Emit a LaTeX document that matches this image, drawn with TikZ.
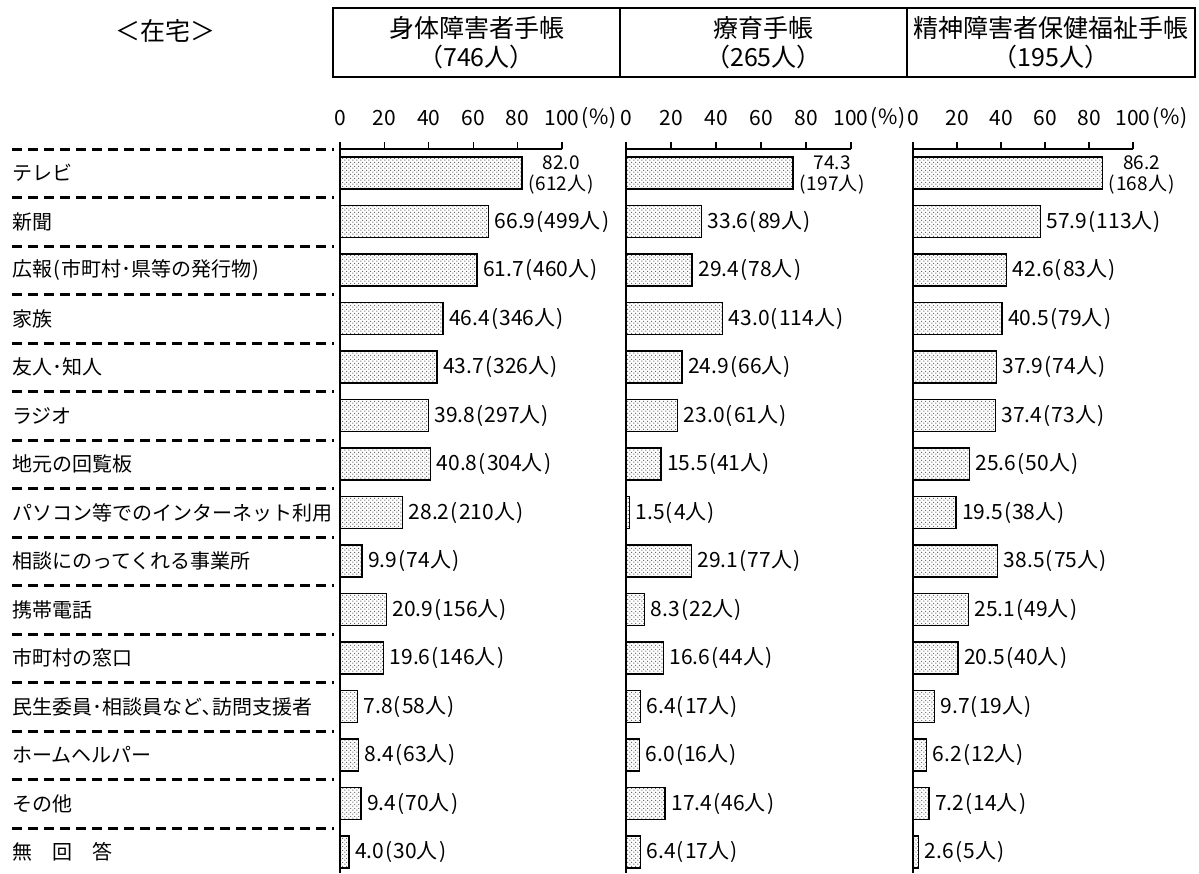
\documentclass[tikz,border=0pt]{standalone}
\usepackage{fontspec}
\setmainfont{Noto Sans CJK JP}
\usetikzlibrary{patterns}
\pgfdeclarepatternformonly{bardots}{\pgfpointorigin}{\pgfqpoint{4.2pt}{4.2pt}}{\pgfqpoint{4.2pt}{4.2pt}}{%
  \pgfpathcircle{\pgfqpoint{1.05pt}{1.05pt}}{0.65pt}%
  \pgfpathcircle{\pgfqpoint{3.15pt}{3.15pt}}{0.65pt}%
  \pgfusepath{fill}}
\newcommand\myLP{\makebox[0.45em]{(}}
\newcommand\myRP{\makebox[0.45em]{)}}
\begin{document}
\begin{tikzpicture}[x=1pt,y=-1pt,
  lab/.style={anchor=west,font=\fontsize{20}{21}\selectfont,inner sep=0pt},
  val/.style={anchor=west,font=\fontsize{21}{22}\selectfont,inner sep=0pt},
  valtwo/.style={font=\fontsize{19}{20}\selectfont,inner sep=0pt},
  hdr/.style={font=\fontsize{25}{29}\selectfont,inner sep=0pt,align=center},
  axl/.style={font=\fontsize{21}{22}\selectfont,inner sep=0pt},
  bar/.style={draw=black,line width=1.4pt,pattern=bardots,pattern color=black!80},
  sepline/.style={line width=3pt,dash pattern=on 10pt off 6pt},
  axisline/.style={line width=1.3pt}
]
\useasboundingbox (0,0) rectangle (1199,873);
% title and header
\node[hdr] (title) at (165,31) {＜在宅＞};
\draw[line width=1.3pt] (333,8) rectangle (1195,77);
\draw[line width=1.3pt] (620,8) -- (620,77) (907,8) -- (907,77);
\node[hdr] (h1) at (476.5,42.5) {身体障害者手帳\\（746人）};
\node[hdr] (h2) at (763.5,42.5) {療育手帳\\（265人）};
\node[hdr] (h3) at (1051,42.5) {精神障害者保健福祉手帳\\（195人）};
% axes
\foreach \p/\X/\W in {1/340/222,2/626/225,3/913/220}{
  \draw[axisline] (\X,142) -- (\X,873);
  \draw[axisline] (\X,149) -- ({\X+\W},149);
  \foreach \k in {1,...,5}{
    \draw[axisline] ({\X+\k*\W/5},142) -- ({\X+\k*\W/5},149);
  }
  \foreach \k/\t in {0/0,1/20,2/40,3/60,4/80}{
    \node[axl] (ax\p-\k) at ({\X+\k*\W/5},118) {\t};
  }
  \node[axl] (ax\p-5) at ({\X+\W},118) {100};
  \node[axl,anchor=west] (pc\p) at (ax\p-5.east) {\myLP\%\myRP};
}
% separators
\foreach \k in {0,...,14}{
  \draw[sepline] (12,{149+48.5*\k}) -- (334,{149+48.5*\k});
}
% first row (two-line labels)
\node[lab] (r0) at (12,173) {テレビ};
\draw[bar] (340,157) rectangle ({340+82.0*2.22},189);
\draw[bar] (626,157) rectangle ({626+74.3*2.25},189);
\draw[bar] (913,157) rectangle ({913+86.2*2.20},189);
\node[valtwo,anchor=west] (v1-0b) at ({340+82.0*2.22+5},185) {\myLP612人\myRP};
\node[valtwo,anchor=west] (v2-0b) at ({626+74.3*2.25+5},185) {\myLP197人\myRP};
\node[valtwo,anchor=west] (v3-0b) at ({913+86.2*2.20+5},185) {\myLP168人\myRP};
\path (v1-0b.center) ++(0,-22) node[valtwo] (v1-0a) {82.0};
\path (v2-0b.center) ++(0,-22) node[valtwo] (v2-0a) {74.3};
\path (v3-0b.center) ++(0,-22) node[valtwo] (v3-0a) {86.2};
% other rows
\foreach \i/\lab/\a/\an/\b/\bn/\c/\cn in {
  1/新聞/66.9/499/33.6/89/57.9/113,
  2/広報\myLP 市町村･県等の発行物\myRP/61.7/460/29.4/78/42.6/83,
  3/家族/46.4/346/43.0/114/40.5/79,
  4/友人･知人/43.7/326/24.9/66/37.9/74,
  5/ラジオ/39.8/297/23.0/61/37.4/73,
  6/地元の回覧板/40.8/304/15.5/41/25.6/50,
  7/パソコン等でのインターネット利用/28.2/210/1.5/4/19.5/38,
  8/相談にのってくれる事業所/9.9/74/29.1/77/38.5/75,
  9/携帯電話/20.9/156/8.3/22/25.1/49,
  10/市町村の窓口/19.6/146/16.6/44/20.5/40,
  11/民生委員･相談員など､訪問支援者/7.8/58/6.4/17/9.7/19,
  12/ホームヘルパー/8.4/63/6.0/16/6.2/12,
  13/その他/9.4/70/17.4/46/7.2/14,
  14/無　回　答/4.0/30/6.4/17/2.6/5}{
  \pgfmathsetmacro{\y}{173+48.5*\i}
  \node[lab] (r\i) at (12,\y) {\lab};
  \draw[bar] (340,{\y-16}) rectangle ({340+\a*2.22},{\y+16});
  \draw[bar] (626,{\y-16}) rectangle ({626+\b*2.25},{\y+16});
  \draw[bar] (913,{\y-16}) rectangle ({913+\c*2.20},{\y+16});
  \node[val] (v1-\i) at ({340+\a*2.22+6},\y) {\a\myLP{\an}人\myRP};
  \node[val] (v2-\i) at ({626+\b*2.25+6},\y) {\b\myLP{\bn}人\myRP};
  \node[val] (v3-\i) at ({913+\c*2.20+6},\y) {\c\myLP{\cn}人\myRP};
}
\end{tikzpicture}
\end{document}
